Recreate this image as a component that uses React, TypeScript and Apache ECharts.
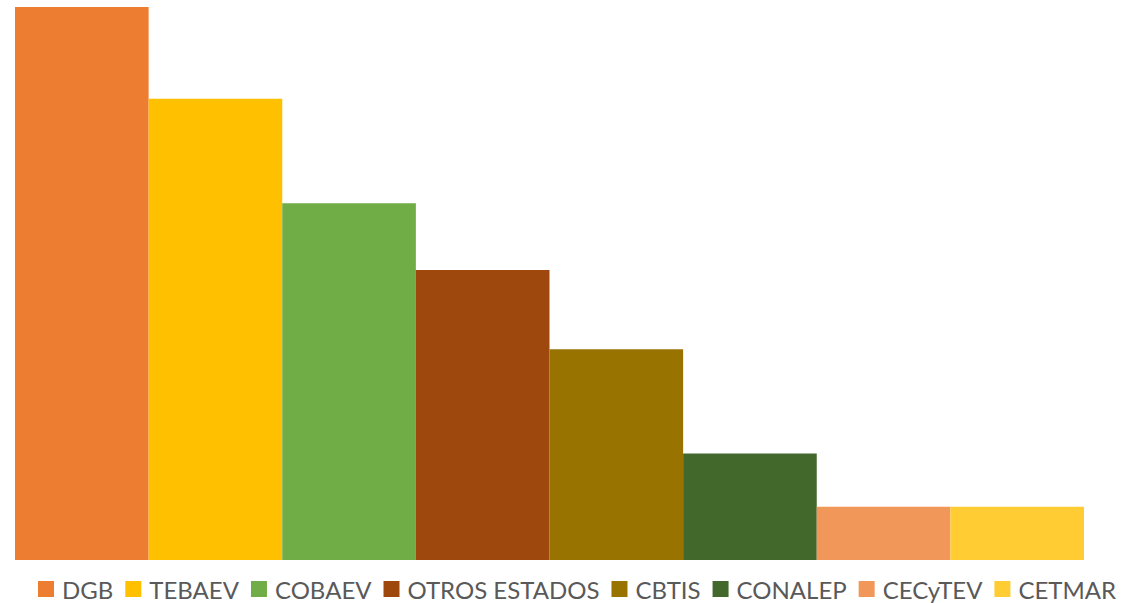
import React, { useEffect, useRef } from "react";
import * as echarts from "echarts";

const seriesNames = ["DGB", "TEBAEV", "COBAEV", "OTROS ESTADOS", "CBTIS", "CONALEP", "CECyTEV", "CETMAR"];
const seriesValues = [26.5, 22.1, 17.1, 13.9, 10.1, 5.1, 2.55, 2.55];
const seriesColors = ["#ED7D31", "#FFC000", "#70AD47", "#9E480E", "#997300", "#43682B", "#F1975A", "#FFCD33"];
const categories = [""];

export default function App() {
  const ref = useRef<HTMLDivElement>(null);
  useEffect(() => {
    const chart = echarts.init(ref.current!, undefined, { renderer: "svg" });
    chart.setOption({
      animation: false,
      backgroundColor: "#ffffff",
      grid: { left: 15, right: 38, top: 7, bottom: 43, containLabel: false },
      xAxis: {
        type: "category",
        data: categories,
        show: false,
      },
      yAxis: {
        type: "value",
        min: 0,
        max: 26.5,
        show: false,
        splitLine: { show: false },
      },
      legend: {
        show: true,
        top: 577,
        left: 38,
        icon: "rect",
        itemWidth: 16,
        itemHeight: 16,
        itemGap: 12,
        padding: 0,
        textStyle: {
          fontFamily: "Lato",
          fontSize: 24,
          lineHeight: 24,
          color: "#595959",
          padding: [0, 0, 0, 3],
        },
        data: seriesNames,
      },
      series: seriesNames.map((name, i) => ({
        name,
        type: "bar",
        data: [seriesValues[i]],
        itemStyle: { color: seriesColors[i] },
        barGap: "0%",
        barCategoryGap: "0%",
      })),
    });
    return () => chart.dispose();
  }, []);
  return <div ref={ref} style={{ width: 1122, height: 603, position: "absolute", left: 0, top: 0 }} />;
}
